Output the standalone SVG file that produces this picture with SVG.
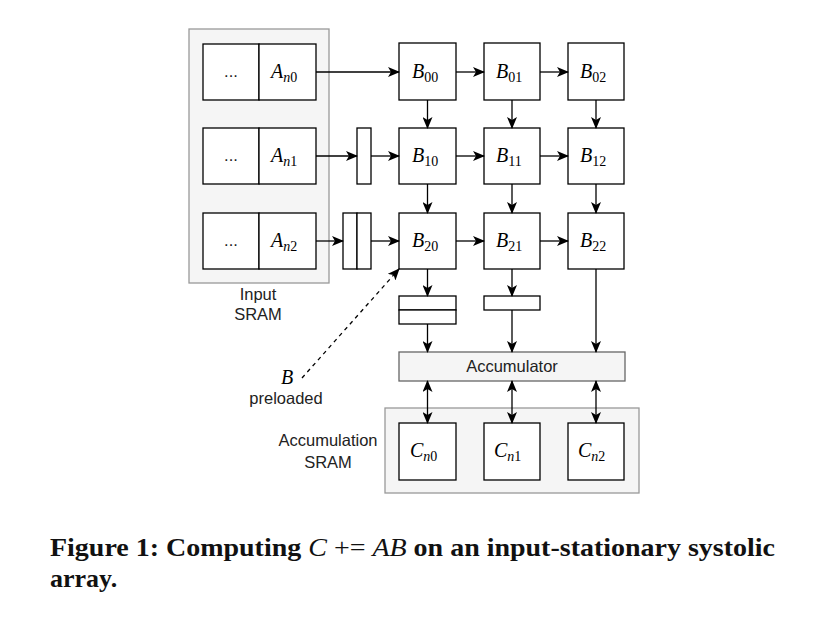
<svg xmlns="http://www.w3.org/2000/svg" width="830" height="623" viewBox="0 0 830 623">
<style>
.box{fill:#fff;stroke:#000;stroke-width:1.3}
.grp{fill:#f5f5f5;stroke:#999;stroke-width:1.3}
.acc{fill:#f5f5f5;stroke:#666;stroke-width:1.3}
.ln{fill:none;stroke:#000;stroke-width:1.3}
.m{font-family:"Liberation Serif",serif;font-style:italic;font-size:20px;fill:#000}
.sub{font-style:normal;font-size:14px}
.i{font-style:italic}
.s{font-family:"Liberation Sans",Arial,sans-serif;font-size:16.5px;fill:#222}
.cap{font-family:"Liberation Serif",serif;font-weight:bold;font-size:26px;fill:#111}
</style>
<defs>
<marker id="ah" viewBox="0 0 12 10" refX="11" refY="5" markerWidth="12" markerHeight="10" markerUnits="userSpaceOnUse" orient="auto-start-reverse">
<path d="M0,0 L12,5 L0,10 L3,5 Z" fill="#000"/>
</marker>
</defs>
<g id="input-sram">
<rect class="grp" x="189" y="29" width="140" height="254"/>
<text class="s" x="258" y="300" text-anchor="middle">Input</text>
<text class="s" x="258" y="320" text-anchor="middle">SRAM</text>
</g>
<g id="a0"><rect class="box" x="203" y="44" width="56" height="56"/><rect class="box" x="259" y="44" width="57" height="56"/><text class="s" x="231" y="77" text-anchor="middle">...</text><text class="m" x="271" y="78">A<tspan class="sub" dy="4"><tspan class="i">n</tspan>0</tspan></text></g>
<g id="a1"><rect class="box" x="203" y="128" width="56" height="56"/><rect class="box" x="259" y="128" width="57" height="56"/><text class="s" x="231" y="161" text-anchor="middle">...</text><text class="m" x="271" y="162">A<tspan class="sub" dy="4"><tspan class="i">n</tspan>1</tspan></text></g>
<g id="a2"><rect class="box" x="203" y="213" width="56" height="56"/><rect class="box" x="259" y="213" width="57" height="56"/><text class="s" x="231" y="246" text-anchor="middle">...</text><text class="m" x="271" y="247">A<tspan class="sub" dy="4"><tspan class="i">n</tspan>2</tspan></text></g>
<g id="reg1"><rect class="box" x="357" y="128" width="14" height="56"/></g>
<g id="reg2"><rect class="box" x="343" y="213" width="14" height="56"/><rect class="box" x="357" y="213" width="14" height="56"/></g>
<g id="b00"><rect class="box" x="399" y="43" width="57" height="57"/><text class="m" x="412" y="78">B<tspan class="sub" dy="4">00</tspan></text></g>
<g id="b01"><rect class="box" x="484" y="43" width="56" height="57"/><text class="m" x="496" y="78">B<tspan class="sub" dy="4">01</tspan></text></g>
<g id="b02"><rect class="box" x="568" y="43" width="56" height="57"/><text class="m" x="580" y="78">B<tspan class="sub" dy="4">02</tspan></text></g>
<g id="b10"><rect class="box" x="399" y="128" width="57" height="56"/><text class="m" x="412" y="162">B<tspan class="sub" dy="4">10</tspan></text></g>
<g id="b11"><rect class="box" x="484" y="128" width="56" height="56"/><text class="m" x="496" y="162">B<tspan class="sub" dy="4">11</tspan></text></g>
<g id="b12"><rect class="box" x="568" y="128" width="56" height="56"/><text class="m" x="580" y="162">B<tspan class="sub" dy="4">12</tspan></text></g>
<g id="b20"><rect class="box" x="399" y="213" width="57" height="56"/><text class="m" x="412" y="247">B<tspan class="sub" dy="4">20</tspan></text></g>
<g id="b21"><rect class="box" x="484" y="213" width="56" height="56"/><text class="m" x="496" y="247">B<tspan class="sub" dy="4">21</tspan></text></g>
<g id="b22"><rect class="box" x="568" y="213" width="56" height="56"/><text class="m" x="580" y="247">B<tspan class="sub" dy="4">22</tspan></text></g>
<g id="reg3"><rect class="box" x="399" y="296" width="57" height="14"/><rect class="box" x="399" y="310" width="57" height="14"/></g>
<g id="reg4"><rect class="box" x="484" y="296" width="56" height="14"/></g>
<g id="accumulator"><rect class="acc" x="399" y="352" width="226" height="29"/><text class="s" x="512" y="372" text-anchor="middle" fill="#333">Accumulator</text></g>
<g id="acc-sram">
<rect class="grp" x="385" y="408" width="254" height="85"/>
<text class="s" x="328" y="446" text-anchor="middle">Accumulation</text>
<text class="s" x="328" y="468" text-anchor="middle">SRAM</text>
</g>
<g id="c0"><rect class="box" x="399" y="423" width="57" height="57"/><text class="m" x="410" y="457">C<tspan class="sub" dy="4"><tspan class="i">n</tspan>0</tspan></text></g>
<g id="c1"><rect class="box" x="484" y="423" width="56" height="57"/><text class="m" x="494" y="457">C<tspan class="sub" dy="4"><tspan class="i">n</tspan>1</tspan></text></g>
<g id="c2"><rect class="box" x="568" y="423" width="56" height="57"/><text class="m" x="578" y="457">C<tspan class="sub" dy="4"><tspan class="i">n</tspan>2</tspan></text></g>
<g id="preload-label">
<text class="m" x="287" y="384" text-anchor="middle">B</text>
<text class="s" x="286" y="404" text-anchor="middle">preloaded</text>
</g>
<g id="connectors">
<line class="ln" x1="316" y1="72" x2="399" y2="72" marker-end="url(#ah)"/>
<line class="ln" x1="456" y1="72" x2="484" y2="72" marker-end="url(#ah)"/>
<line class="ln" x1="540" y1="72" x2="568" y2="72" marker-end="url(#ah)"/>
<line class="ln" x1="316" y1="156" x2="357" y2="156" marker-end="url(#ah)"/>
<line class="ln" x1="371" y1="156" x2="399" y2="156" marker-end="url(#ah)"/>
<line class="ln" x1="456" y1="156" x2="484" y2="156" marker-end="url(#ah)"/>
<line class="ln" x1="540" y1="156" x2="568" y2="156" marker-end="url(#ah)"/>
<line class="ln" x1="316" y1="241" x2="343" y2="241" marker-end="url(#ah)"/>
<line class="ln" x1="371" y1="241" x2="399" y2="241" marker-end="url(#ah)"/>
<line class="ln" x1="456" y1="241" x2="484" y2="241" marker-end="url(#ah)"/>
<line class="ln" x1="540" y1="241" x2="568" y2="241" marker-end="url(#ah)"/>
<line class="ln" x1="427.5" y1="100" x2="427.5" y2="128" marker-end="url(#ah)"/>
<line class="ln" x1="512" y1="100" x2="512" y2="128" marker-end="url(#ah)"/>
<line class="ln" x1="596" y1="100" x2="596" y2="128" marker-end="url(#ah)"/>
<line class="ln" x1="427.5" y1="184" x2="427.5" y2="213" marker-end="url(#ah)"/>
<line class="ln" x1="512" y1="184" x2="512" y2="213" marker-end="url(#ah)"/>
<line class="ln" x1="596" y1="184" x2="596" y2="213" marker-end="url(#ah)"/>
<line class="ln" x1="427.5" y1="269" x2="427.5" y2="296" marker-end="url(#ah)"/>
<line class="ln" x1="512" y1="269" x2="512" y2="296" marker-end="url(#ah)"/>
<line class="ln" x1="427.5" y1="324" x2="427.5" y2="352" marker-end="url(#ah)"/>
<line class="ln" x1="512" y1="310" x2="512" y2="352" marker-end="url(#ah)"/>
<line class="ln" x1="596" y1="269" x2="596" y2="352" marker-end="url(#ah)"/>
<line class="ln" x1="427.5" y1="381" x2="427.5" y2="423" marker-start="url(#ah)" marker-end="url(#ah)"/>
<line class="ln" x1="512" y1="381" x2="512" y2="423" marker-start="url(#ah)" marker-end="url(#ah)"/>
<line class="ln" x1="596" y1="381" x2="596" y2="423" marker-start="url(#ah)" marker-end="url(#ah)"/>
<line class="ln" x1="302" y1="378" x2="399" y2="269" stroke-dasharray="4,4" marker-end="url(#ah)"/>
</g>
<g id="caption">
<text class="cap" x="50" y="556" textLength="725" lengthAdjust="spacingAndGlyphs">Figure 1: Computing <tspan font-weight="normal" font-style="italic">C</tspan> <tspan font-weight="normal">+=</tspan> <tspan font-weight="normal" font-style="italic">AB</tspan> on an input-stationary systolic</text>
<text class="cap" x="50" y="587">array.</text>
</g>
</svg>
